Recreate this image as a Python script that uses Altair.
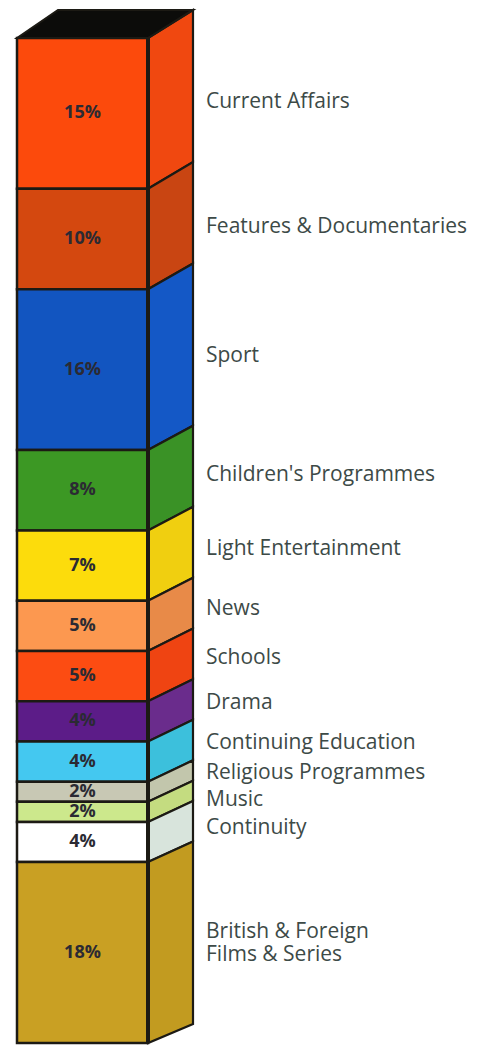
import altair as alt
import pandas as pd

# ---- data ----
categories = ["Current Affairs", "Features & Documentaries", "Sport", "Children's Programmes",
              "Light Entertainment", "News", "Schools", "Drama", "Continuing Education",
              "Religious Programmes", "Music", "Continuity", "British & Foreign\nFilms & Series"]
shares = [15, 10, 16, 8, 7, 5, 5, 4, 4, 2, 2, 4, 18]
front_colors = ["#fc4a0c", "#d4480f", "#1255c0", "#3c9824", "#fcdc0c", "#fc9850", "#fc4c12",
                "#5c1c88", "#44c8f0", "#c8c8b4", "#cce88c", "#ffffff", "#c9a023"]
side_colors = ["#f04810", "#c94512", "#1458c6", "#3a9226", "#f0cf10", "#e88a48", "#ef4412",
               "#6a2c8c", "#3cc0dc", "#c2c6ac", "#c4dc80", "#d8e4dc", "#c29b20"]

# ---- layout (pixels / percent units) ----
W, H = 490, 1049
FRONT_L, FRONT_R, BACK_L, BACK_R = 17, 148, 58, 193
TOP_PX, PX_PER_PCT = 38, 10.05
LABEL_X = 206
MIN_GAP = 2.75  # minimum spacing between right-hand labels, in % units
EDGE = "#1c1a14"


def depth(c):
    """vertical shift (in % units) of the back edge; perspective shrinks it downwards"""
    return 2.79 - 0.009 * c


rows, side_rows = [], []
cum = 0
prev_label = -100
for i, (name, p) in enumerate(zip(categories, shares)):
    start, end = cum, cum + p
    mid = (start + end) / 2
    ly = max(mid - (1.0 + 0.012 * mid), prev_label + MIN_GAP)
    prev_label = ly
    rows.append(dict(name=name, pct=f"{p}%", start=start, end=end, mid=mid,
                     label_y=ly, front=front_colors[i],
                     xl=FRONT_L, xr=FRONT_R, xc=(FRONT_L + FRONT_R) / 2, xlab=LABEL_X))
    side_rows.append(dict(name=name, x=FRONT_R, top=start, bot=end, side=side_colors[i]))
    side_rows.append(dict(name=name, x=BACK_R, top=start - depth(start), bot=end - depth(end),
                          side=side_colors[i]))
    cum = end

segs = pd.DataFrame(rows)
sides = pd.DataFrame(side_rows)
top_face = pd.DataFrame(dict(x=[FRONT_L, BACK_L, FRONT_R, BACK_R],
                             up=[0, -depth(0), -depth(0), -depth(0)],
                             lo=[0, 0, 0, -depth(0)]))
divider = pd.DataFrame(dict(x=[FRONT_R], y0=[0], y1=[100]))

y_min = -TOP_PX / PX_PER_PCT
y_max = (H - TOP_PX) / PX_PER_PCT
xs = alt.Scale(domain=[0, W], range=[0, W])
ys = alt.Scale(domain=[y_min, y_max], reverse=True, nice=False, zero=False)
X = lambda f: alt.X(f, type="quantitative", scale=xs, axis=None)
Y = lambda f: alt.Y(f, type="quantitative", scale=ys, axis=None)

base = alt.Chart(segs)

front = base.mark_rect(stroke=EDGE, strokeWidth=2.5).encode(
    x=X("xl"), x2="xr", y=Y("start"), y2="end",
    color=alt.Color("front:N", scale=None))

side = alt.Chart(sides).mark_area(stroke=EDGE, strokeWidth=2.2, interpolate="linear").encode(
    x=X("x"), y=Y("top"), y2="bot",
    color=alt.Color("side:N", scale=None), detail="name:N")

top = alt.Chart(top_face).mark_area(color="#0c0c0a", stroke=EDGE, strokeWidth=2).encode(
    x=X("x"), y=Y("up"), y2="lo")

div = alt.Chart(divider).mark_rule(color=EDGE, strokeWidth=4).encode(
    x=X("x"), y=Y("y0"), y2="y1")

pct_text = base.mark_text(font="Open Sans", fontWeight="bold", fontSize=18, color="#2b2a33",
                          align="center", baseline="middle").encode(
    x=X("xc"), y=Y("mid"), text="pct:N")

labels = base.mark_text(font="Open Sans", fontSize=21, color="#3d4a47", align="left",
                        baseline="middle", lineBreak="\n", lineHeight=23).encode(
    x=X("xlab"), y=Y("label_y"), text="name:N")

chart = alt.layer(side, front, top, div, pct_text, labels).properties(
    width=W, height=H, padding=0, autosize="none", background="white"
).configure_view(stroke=None)

chart.save("out.html", embed_options={"renderer": "svg", "actions": False})
